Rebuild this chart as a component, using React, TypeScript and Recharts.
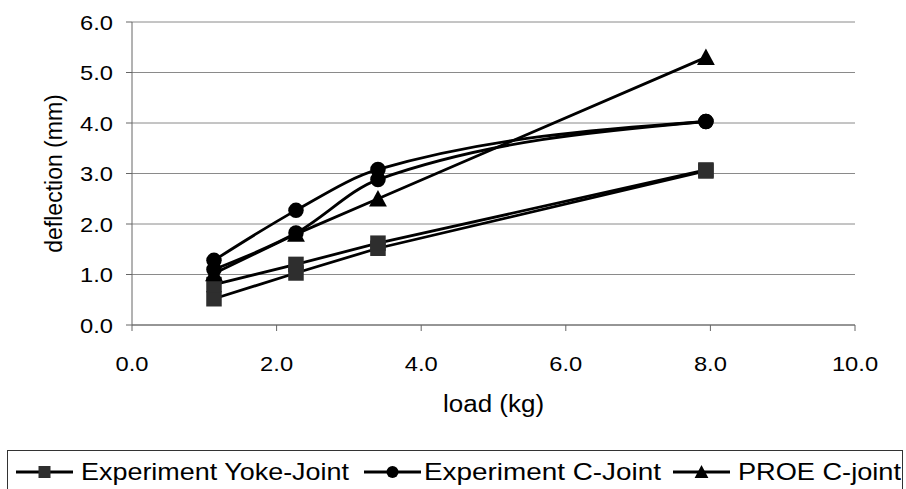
import React from 'react';
import { LineChart, Line, XAxis, YAxis, CartesianGrid, Legend } from 'recharts';

// ---- data ----
const loads = [1.134, 2.268, 3.402, 7.938];
const yokeJointA = [0.52, 1.03, 1.52, 3.05];
const yokeJointB = [0.8, 1.2, 1.62, 3.07];
const cJointA = [1.28, 2.27, 3.08, 4.03];
const cJointB = [1.1, 1.82, 2.88, 4.03];
const proeCJoint = [1.02, 1.8, 2.5, 5.3];

const xTicks = [0, 2, 4, 6, 8, 10];
const yTicks = [0, 1, 2, 3, 4, 5, 6];
const legendNames = ['Experiment Yoke-Joint', 'Experiment C-Joint', 'PROE C-joint'];
const xTitle = 'load (kg)';
const yTitle = 'deflection (mm)';

const data = loads.map((load, i) => ({
  load,
  yokeA: yokeJointA[i],
  yokeB: yokeJointB[i],
  cA: cJointA[i],
  cB: cJointB[i],
  proe: proeCJoint[i],
}));

type MarkerKind = 'square' | 'circle' | 'triangle';

const series: { key: string; marker: MarkerKind; curve: 'linear' | 'monotone' }[] = [
  { key: 'yokeA', marker: 'square', curve: 'linear' },
  { key: 'yokeB', marker: 'square', curve: 'linear' },
  { key: 'proe', marker: 'triangle', curve: 'linear' },
  { key: 'cB', marker: 'circle', curve: 'monotone' },
  { key: 'cA', marker: 'circle', curve: 'monotone' },
];

const FONT = 'Arial, "Liberation Sans", sans-serif';
const SX = 1.13;

function Marker({ kind, cx, cy, size }: { kind: MarkerKind; cx: number; cy: number; size: number }) {
  if (kind === 'square') {
    return <rect x={cx - size / 2} y={cy - size / 2} width={size} height={size} fill="#2e2e2e" />;
  }
  if (kind === 'circle') {
    return <circle cx={cx} cy={cy} r={size / 2} fill="#000" />;
  }
  const w = size * 1.15;
  const h = size;
  return (
    <polygon
      points={`${cx},${cy - h / 2 - 1} ${cx - w / 2},${cy + h / 2} ${cx + w / 2},${cy + h / 2}`}
      fill="#000"
    />
  );
}

const makeDot = (kind: MarkerKind) => (props: any) => {
  const { cx, cy, index } = props;
  if (cx == null || cy == null) return <g key={`d-${index}`} />;
  return (
    <g key={`d-${kind}-${index}`}>
      <Marker kind={kind} cx={cx} cy={cy} size={15.5} />
    </g>
  );
};

const XTick = (props: any) => {
  const { x, y, payload } = props;
  return (
    <text
      transform={`translate(${x},${y + 15}) scale(${SX},1)`}
      textAnchor="middle"
      fontSize={21}
      fontFamily={FONT}
      fill="#000"
    >
      {Number(payload.value).toFixed(1)}
    </text>
  );
};

const YTick = (props: any) => {
  const { x, y, payload } = props;
  return (
    <text
      transform={`translate(${x},${y + 7.5}) scale(${SX},1)`}
      textAnchor="end"
      fontSize={21}
      fontFamily={FONT}
      fill="#000"
    >
      {Number(payload.value).toFixed(1)}
    </text>
  );
};

const legendLayout = [
  { lineX: 8, textX: 73, textLen: 268 },
  { lineX: 356, textX: 416, textLen: 237 },
  { lineX: 665, textX: 730, textLen: 163 },
];
const legendMarkers: MarkerKind[] = ['square', 'circle', 'triangle'];

const LegendContent = () => (
  <div
    style={{
      width: 896,
      height: 39,
      boxSizing: 'border-box',
      border: '1.5px solid #333',
      borderBottom: 'none',
      background: '#fff',
    }}
  >
    <svg width={893} height={38} style={{ display: 'block' }}>
      {legendNames.map((name, i) => {
        const l = legendLayout[i];
        return (
          <g key={name}>
            <line x1={l.lineX} x2={l.lineX + 57} y1={21} y2={21} stroke="#000" strokeWidth={2.8} />
            <Marker kind={legendMarkers[i]} cx={l.lineX + 28.5} cy={21} size={12} />
            <text
              x={l.textX}
              y={29}
              fontSize={24}
              fontFamily={FONT}
              fill="#000"
              textLength={l.textLen}
              lengthAdjust="spacingAndGlyphs"
            >
              {name}
            </text>
          </g>
        );
      })}
    </svg>
  </div>
);

export default function App() {
  return (
    <div style={{ position: 'absolute', left: 0, top: 0, width: 906, height: 489, background: '#fff' }}>
      <LineChart
        width={906}
        height={489}
        data={data}
        margin={{ top: 22, right: 51, left: 20, bottom: 0 }}
      >
        <CartesianGrid horizontal vertical={false} stroke="#8a8a8a" strokeWidth={1} />
        <XAxis
          type="number"
          dataKey="load"
          domain={[0, 10]}
          ticks={xTicks}
          interval={0}
          height={125}
          tickSize={6}
          tickMargin={25}
          axisLine={{ stroke: '#666', strokeWidth: 1 }}
          tickLine={{ stroke: '#666', strokeWidth: 1 }}
          tick={<XTick />}
          label={(p: any) => {
            const vb = p.viewBox || {};
            return (
              <text
                transform={`translate(${vb.x + vb.width / 2},${vb.y + 87}) scale(${SX},1)`}
                textAnchor="middle"
                fontSize={23}
                fontFamily={FONT}
                fill="#000"
              >
                {xTitle}
              </text>
            );
          }}
        />
        <YAxis
          type="number"
          domain={[0, 6]}
          ticks={yTicks}
          interval={0}
          width={112}
          tickSize={6}
          tickMargin={13}
          axisLine={{ stroke: '#666', strokeWidth: 1 }}
          tickLine={{ stroke: '#666', strokeWidth: 1 }}
          tick={<YTick />}
          label={(p: any) => {
            const vb = p.viewBox || {};
            return (
              <text
                transform={`translate(${vb.x + 42},${vb.y + vb.height / 2}) rotate(-90)`}
                textAnchor="middle"
                fontSize={23}
                fontFamily={FONT}
                fill="#000"
              >
                {yTitle}
              </text>
            );
          }}
        />
        <Legend
          verticalAlign="bottom"
          content={<LegendContent />}
          wrapperStyle={{ left: 7, top: 450, bottom: 'auto', width: 896, height: 39 }}
        />
        {series.map((s) => (
          <Line
            key={s.key}
            dataKey={s.key}
            type={s.curve}
            stroke="#000"
            strokeWidth={2.8}
            dot={makeDot(s.marker)}
            activeDot={false}
            legendType="none"
            isAnimationActive={false}
          />
        ))}
      </LineChart>
    </div>
  );
}
